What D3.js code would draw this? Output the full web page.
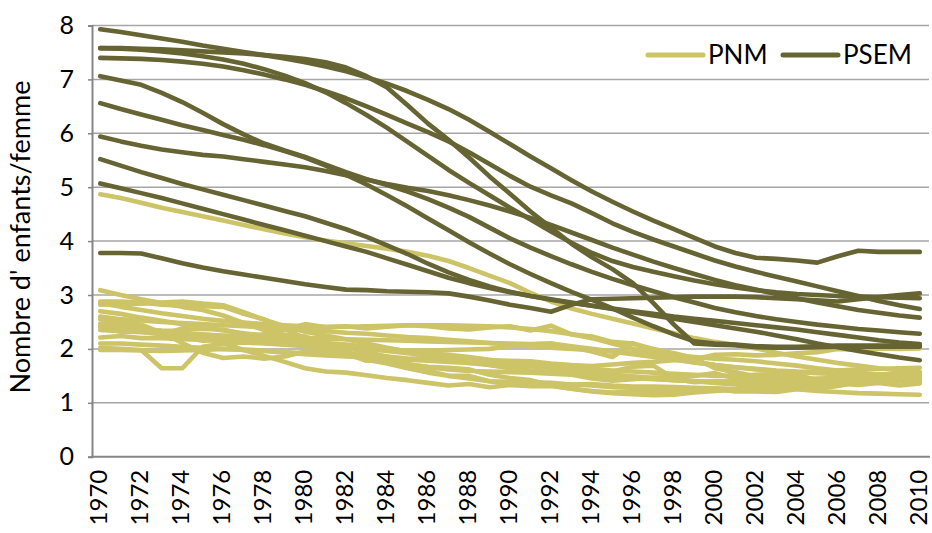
<!DOCTYPE html>
<html lang="fr">
<head>
<meta charset="utf-8">
<title>Indice de fécondité PNM / PSEM</title>
<script src="https://cdn.jsdelivr.net/npm/d3@7/dist/d3.min.js"></script>
<style>
  body { margin: 0; background: #fff; }
  svg { display: block; font-family: Lato, "Open Sans", sans-serif; }
  .grid line { stroke: #a6a6a6; stroke-width: 1.5; }
  .serie { fill: none; stroke-width: 4.6; stroke-linejoin: round; stroke-linecap: round; }
</style>
</head>
<body>
<script>
// années (axe des x)
let years = [1970,1971,1972,1973,1974,1975,1976,1977,1978,1979,
             1980,1981,1982,1983,1984,1985,1986,1987,1988,1989,
             1990,1991,1992,1993,1994,1995,1996,1997,1998,1999,
             2000,2001,2002,2003,2004,2005,2006,2007,2008,2009,2010];
let xTicks = [1970,1972,1974,1976,1978,1980,1982,1984,1986,1988,1990,
              1992,1994,1996,1998,2000,2002,2004,2006,2008,2010];
let yTicks = [0,1,2,3,4,5,6,7,8];

// pays sud et est méditerranéens
let psem = [
  [7.93,7.88,7.82,7.76,7.70,7.63,7.57,7.51,7.45,7.39,7.32,7.24,7.15,7.04,6.92,6.78,6.62,6.45,6.25,6.03,5.80,5.57,5.35,5.13,4.92,4.73,4.55,4.38,4.22,4.06,3.90,3.78,3.69,3.67,3.64,3.60,3.72,3.82,3.80,3.80,3.80],
  [7.58,7.58,7.57,7.56,7.54,7.52,7.50,7.48,7.45,7.42,7.38,7.32,7.22,7.06,6.85,6.52,6.18,5.88,5.55,5.20,4.88,4.55,4.25,3.95,3.70,3.48,3.22,2.85,2.45,2.10,2.08,2.07,2.03,2.02,2.02,2.03,2.04,2.04,2.04,2.04,2.04],
  [7.40,7.39,7.38,7.36,7.33,7.29,7.24,7.17,7.09,7.00,6.90,6.78,6.65,6.50,6.34,6.18,6.02,5.85,5.65,5.43,5.21,5.01,4.85,4.70,4.52,4.33,4.17,4.03,3.90,3.77,3.64,3.53,3.43,3.34,3.25,3.16,3.07,2.98,2.89,2.81,2.74],
  [7.58,7.57,7.55,7.52,7.48,7.43,7.37,7.29,7.19,7.07,6.93,6.76,6.56,6.34,6.10,5.84,5.58,5.32,5.08,4.85,4.62,4.40,4.18,3.97,3.78,3.63,3.52,3.43,3.35,3.27,3.20,3.14,3.09,3.05,3.02,3.00,2.98,2.97,2.96,2.95,2.94],
  [7.06,6.98,6.90,6.75,6.58,6.38,6.17,5.98,5.81,5.68,5.56,5.42,5.28,5.15,5.04,4.92,4.78,4.62,4.45,4.25,4.05,3.88,3.72,3.57,3.43,3.30,3.18,3.07,2.96,2.86,2.76,2.68,2.61,2.55,2.50,2.45,2.41,2.37,2.34,2.31,2.28],
  [6.56,6.45,6.35,6.25,6.15,6.06,5.97,5.88,5.78,5.67,5.55,5.40,5.23,5.05,4.85,4.64,4.42,4.20,3.98,3.77,3.57,3.39,3.22,3.06,2.91,2.75,2.58,2.42,2.27,2.14,2.10,2.08,2.05,2.04,2.04,2.05,2.06,2.06,2.06,2.06,2.06],
  [5.94,5.85,5.77,5.70,5.65,5.60,5.57,5.52,5.47,5.42,5.37,5.30,5.22,5.14,5.06,4.99,4.93,4.85,4.76,4.66,4.55,4.43,4.30,4.16,4.02,3.88,3.75,3.62,3.50,3.39,3.28,3.18,3.10,3.02,2.94,2.86,2.79,2.72,2.67,2.62,2.58],
  [5.52,5.40,5.28,5.17,5.06,4.96,4.86,4.76,4.66,4.56,4.46,4.34,4.22,4.08,3.92,3.76,3.58,3.42,3.28,3.16,3.06,2.98,2.91,2.85,2.80,2.75,2.70,2.65,2.60,2.56,2.52,2.48,2.44,2.40,2.36,2.31,2.26,2.21,2.16,2.12,2.09],
  [5.07,4.98,4.89,4.80,4.70,4.60,4.50,4.40,4.30,4.20,4.10,4.00,3.90,3.80,3.68,3.56,3.44,3.32,3.22,3.13,3.05,2.98,2.92,2.86,2.80,2.74,2.68,2.62,2.56,2.50,2.44,2.38,2.32,2.25,2.18,2.10,2.03,1.96,1.90,1.84,1.79],
  [3.78,3.78,3.77,3.68,3.59,3.51,3.44,3.38,3.32,3.26,3.20,3.15,3.10,3.09,3.07,3.06,3.05,3.03,2.97,2.90,2.82,2.76,2.69,2.82,2.92,2.93,2.94,2.95,2.96,2.97,2.97,2.97,2.96,2.94,2.92,2.90,2.88,2.92,2.96,3.00,3.03]
];

// pays nord méditerranéens
let pnm = [
  [4.87,4.80,4.71,4.62,4.54,4.46,4.38,4.30,4.22,4.14,4.07,4.01,3.96,3.91,3.86,3.80,3.73,3.63,3.50,3.36,3.22,3.04,2.88,2.75,2.65,2.56,2.47,2.38,2.29,2.20,2.13,2.07,2.01,1.93,1.86,1.80,1.74,1.69,1.64,1.60,1.56],
  [3.09,3.00,2.92,2.85,2.78,2.72,2.62,2.48,2.35,2.25,2.18,2.10,2.04,1.94,1.86,1.72,1.66,1.62,1.59,1.58,1.57,1.56,1.54,1.52,1.45,1.41,1.44,1.47,1.48,1.50,1.55,1.45,1.47,1.44,1.40,1.40,1.36,1.33,1.37,1.32,1.36],
  [2.88,2.88,2.86,2.82,2.80,2.79,2.78,2.65,2.55,2.37,2.20,2.04,1.94,1.80,1.73,1.64,1.56,1.50,1.45,1.40,1.36,1.33,1.32,1.26,1.21,1.18,1.16,1.14,1.15,1.19,1.22,1.24,1.26,1.30,1.32,1.33,1.36,1.38,1.46,1.40,1.38],
  [2.85,2.78,2.72,2.66,2.61,2.56,2.52,2.49,2.46,2.44,2.42,2.41,2.41,2.42,2.43,2.44,2.44,2.44,2.43,2.42,2.40,2.37,2.33,2.27,2.20,2.10,2.00,1.91,1.83,1.76,1.70,1.66,1.62,1.59,1.57,1.55,1.53,1.52,1.51,1.50,1.50],
  [2.35,2.33,2.31,2.29,2.27,2.26,2.25,2.24,2.22,2.21,2.20,2.19,2.18,2.17,2.16,2.15,2.14,2.13,2.12,2.11,2.10,2.09,2.10,2.05,2.00,1.95,1.90,1.85,1.80,1.75,1.70,1.66,1.63,1.60,1.58,1.57,1.55,1.52,1.50,1.48,1.46],
  [2.47,2.49,2.41,2.31,2.11,1.93,1.83,1.86,1.82,1.86,1.95,1.95,1.91,1.78,1.81,1.81,1.83,1.80,1.80,1.79,1.78,1.77,1.73,1.70,1.68,1.71,1.74,1.76,1.79,1.81,1.89,1.90,1.88,1.89,1.92,1.94,2.00,1.98,2.01,2.00,2.01],
  [2.42,2.41,2.36,2.34,2.33,2.21,2.11,1.98,1.87,1.76,1.64,1.58,1.56,1.51,1.46,1.42,1.37,1.32,1.35,1.29,1.33,1.31,1.31,1.26,1.22,1.19,1.21,1.22,1.21,1.23,1.26,1.25,1.27,1.29,1.33,1.32,1.35,1.37,1.42,1.41,1.41],
  [2.40,2.32,2.32,2.27,2.38,2.37,2.36,2.27,2.26,2.26,2.23,2.09,2.02,1.94,1.82,1.67,1.60,1.50,1.50,1.40,1.39,1.38,1.37,1.34,1.35,1.32,1.30,1.30,1.29,1.28,1.27,1.25,1.27,1.28,1.30,1.33,1.40,1.41,1.51,1.52,1.51],
  [2.60,2.55,2.45,2.30,2.22,2.15,2.16,2.20,2.27,2.35,2.46,2.40,2.42,2.38,2.41,2.44,2.42,2.38,2.36,2.40,2.42,2.34,2.43,2.27,2.23,2.13,2.10,2.00,1.92,1.83,1.64,1.57,1.49,1.50,1.52,1.42,1.47,1.39,1.46,1.51,1.44],
  [2.02,2.00,1.98,1.64,1.64,2.04,2.10,2.12,2.10,2.08,2.05,2.03,2.02,2.00,1.98,1.97,1.97,1.98,1.99,2.00,2.05,2.08,2.10,2.03,1.95,1.85,2.10,1.95,1.82,1.75,1.70,1.52,1.48,1.47,1.40,1.38,1.39,1.35,1.43,1.44,1.38],
  [2.21,2.24,2.20,2.20,2.18,2.17,2.18,2.16,2.16,2.13,2.10,1.95,1.94,1.86,1.75,1.71,1.67,1.65,1.62,1.52,1.46,1.42,1.33,1.34,1.32,1.29,1.28,1.25,1.23,1.21,1.26,1.21,1.21,1.20,1.25,1.26,1.31,1.38,1.53,1.53,1.57],
  [1.98,1.98,1.97,1.96,1.97,1.98,2.00,1.99,1.97,1.94,1.92,1.93,1.90,1.88,1.86,1.82,1.80,1.78,1.74,1.70,1.65,1.57,1.57,1.54,1.47,1.58,1.67,1.69,1.45,1.38,1.40,1.39,1.34,1.33,1.34,1.41,1.38,1.40,1.47,1.49,1.46],
  [2.70,2.65,2.58,2.52,2.46,2.40,2.34,2.29,2.24,2.19,2.15,2.11,2.08,2.04,2.00,1.96,1.92,1.89,1.85,1.80,1.75,1.70,1.65,1.60,1.56,1.52,1.49,1.46,1.43,1.40,1.37,1.34,1.31,1.28,1.25,1.22,1.20,1.18,1.17,1.16,1.15],
  [2.55,2.55,2.53,2.50,2.48,2.46,2.44,2.42,2.40,2.38,2.35,2.33,2.30,2.28,2.25,2.22,2.20,2.17,2.14,2.11,2.08,2.05,2.02,2.00,1.98,1.96,1.93,1.90,1.88,1.85,1.82,1.80,1.77,1.73,1.69,1.64,1.60,1.56,1.52,1.49,1.46],
  [2.82,2.83,2.84,2.86,2.88,2.84,2.81,2.68,2.54,2.42,2.32,2.25,2.18,2.10,2.02,1.95,1.88,1.82,1.76,1.70,1.64,1.60,1.57,1.54,1.51,1.48,1.46,1.44,1.42,1.40,1.39,1.40,1.42,1.43,1.44,1.45,1.46,1.47,1.48,1.50,1.52],
  [2.10,2.10,2.08,2.06,2.04,2.02,2.00,1.98,1.96,1.93,1.90,1.88,1.86,1.84,1.82,1.80,1.78,1.76,1.74,1.72,1.70,1.68,1.66,1.64,1.62,1.60,1.58,1.56,1.54,1.52,1.50,1.50,1.52,1.54,1.56,1.58,1.60,1.62,1.63,1.64,1.65],
  [2.45,2.40,2.37,2.33,2.30,2.27,2.24,2.21,2.18,2.15,2.12,2.08,2.04,2.00,1.96,1.92,1.88,1.84,1.80,1.76,1.72,1.68,1.64,1.60,1.56,1.52,1.48,1.45,1.42,1.40,1.38,1.37,1.36,1.36,1.37,1.38,1.40,1.42,1.44,1.45,1.46]
];

let legendItems = ["PNM", "PSEM"];
let colors = { PNM: "#cdc468", PSEM: "#676433" };

let w = 932;
let h = 533;

var svg = d3.select("body")
            .append("svg")
            .attr("width", w)
            .attr("height", h);

var x = d3.scalePoint()
          .domain(years)
          .range([90, 930])
          .padding(0.5);

var y = d3.scaleLinear()
          .domain([0, 8])
          .range([456.7, 25.5]);

// lignes de la grille horizontale
svg.append("g")
   .attr("class", "grid")
   .selectAll("line")
   .data(yTicks.slice(1))
   .enter()
   .append("line")
   .attr("x1", 92)
   .attr("x2", 929)
   .attr("y1", function(d){ return y(d); })
   .attr("y2", function(d){ return y(d); });

// axe y
var yAxis = d3.axisLeft(y).tickValues(yTicks).tickSize(4).tickPadding(14);
var gy = svg.append("g")
            .attr("transform", "translate(92,0)")
            .call(yAxis);
gy.select(".domain").attr("stroke", "#868686").attr("stroke-width", 2);
gy.selectAll(".tick line").attr("stroke", "#868686").attr("stroke-width", 1.5);
gy.selectAll("text")
  .attr("font-size", 25)
  .attr("font-family", "Lato, sans-serif")
  .attr("fill", "#000");

// axe x
var xAxis = d3.axisBottom(x).tickValues(xTicks).tickSize(0).tickPadding(0);
var gx = svg.append("g")
            .attr("transform", "translate(0," + y(0) + ")")
            .call(xAxis);
gx.select(".domain").remove();
gx.append("line")
  .attr("x1", 91).attr("x2", 930)
  .attr("stroke", "#868686").attr("stroke-width", 2);
gx.selectAll(".tick text")
  .attr("font-size", 24)
  .attr("font-family", "Lato, sans-serif")
  .attr("fill", "#000")
  .attr("text-anchor", "end")
  .attr("transform", "translate(0,13) rotate(-90)")
  .attr("x", 0)
  .attr("y", 0)
  .attr("dy", "0.28em");

// titre de l'axe y
svg.append("text")
   .attr("transform", "translate(30,237) rotate(-90)")
   .attr("text-anchor", "middle")
   .attr("font-size", 27)
   .attr("fill", "#000")
   .text("Nombre d' enfants/femme");

var line = d3.line()
             .x(function(d, i){ return x(years[i]); })
             .y(function(d){ return y(d); });

// PNM en dessous, PSEM au dessus
svg.append("g")
   .selectAll("path")
   .data(pnm)
   .enter()
   .append("path")
   .attr("class", "serie")
   .attr("stroke", colors.PNM)
   .attr("d", line);

svg.append("g")
   .selectAll("path")
   .data(psem)
   .enter()
   .append("path")
   .attr("class", "serie")
   .attr("stroke", colors.PSEM)
   .attr("d", line);

// légende
var legendX = [648, 783];
var leg = svg.append("g")
             .selectAll("g")
             .data(legendItems)
             .enter()
             .append("g")
             .attr("transform", function(d, i){ return "translate(" + legendX[i] + ",55)"; });
leg.append("line")
   .attr("x1", 0).attr("x2", 55)
   .attr("stroke", function(d){ return colors[d]; })
   .attr("stroke-width", 5)
   .attr("stroke-linecap", "round");
leg.append("text")
   .attr("x", 60)
   .attr("dy", "0.36em")
   .attr("font-size", 26)
   .attr("fill", "#000")
   .text(function(d){ return d; });
</script>
</body>
</html>
